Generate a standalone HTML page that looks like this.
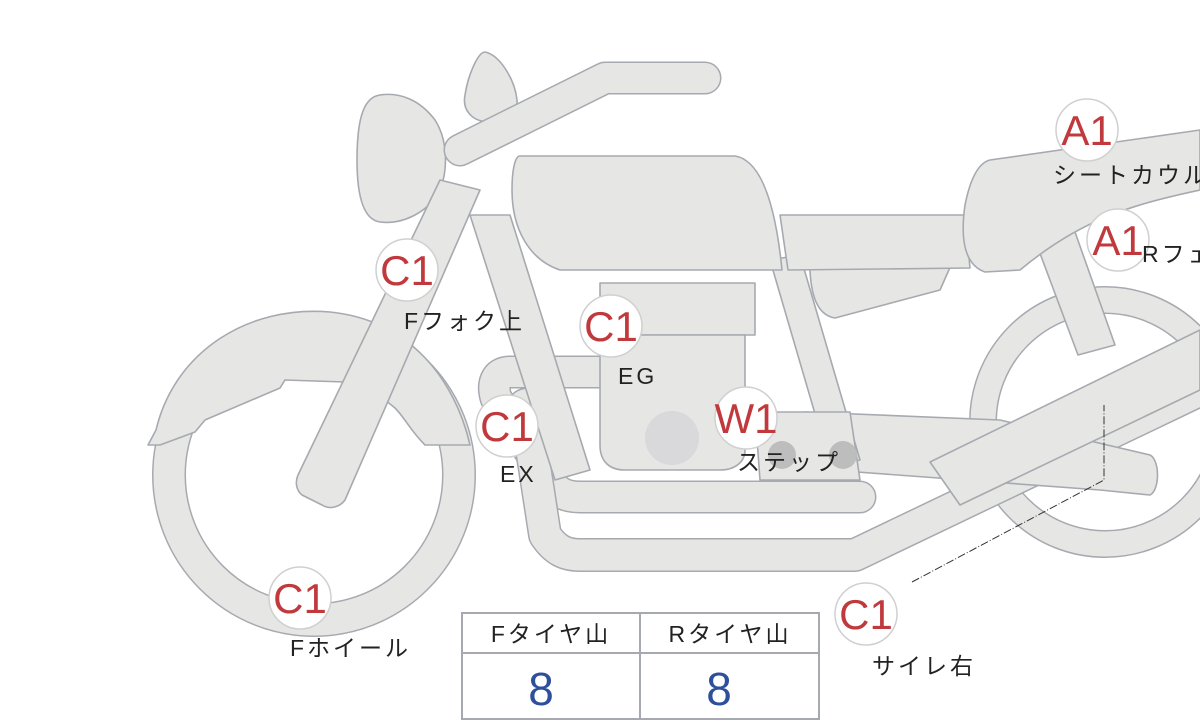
<!DOCTYPE html>
<html><head><meta charset="utf-8"><style>
html,body{margin:0;padding:0;background:#fff;}
svg{display:block;}
.s{fill:#e6e6e4;stroke:#a6aab0;stroke-width:1.6;stroke-linejoin:round;}
.t{font-family:"Liberation Sans","Noto Sans CJK JP",sans-serif;font-size:23px;fill:#222;letter-spacing:3px;}
.c{fill:#fff;stroke:#d0d0d0;stroke-width:1.5;}
.code{font-family:"Liberation Sans",sans-serif;font-size:42px;fill:#c0393c;text-anchor:middle;}
</style></head><body>
<svg width="1200" height="720" viewBox="0 0 1200 720">
<circle cx="1105" cy="422" r="122" fill="none" stroke="#a6aab0" stroke-width="28"/>
<circle cx="1105" cy="422" r="122" fill="none" stroke="#e6e6e4" stroke-width="25"/>
<circle cx="314" cy="475" r="145" fill="none" stroke="#a6aab0" stroke-width="34"/>
<circle cx="314" cy="475" r="145" fill="none" stroke="#e6e6e4" stroke-width="31"/>
<path class="s" d="M148,445 L156,430 C175,350 250,305 330,312 C410,320 455,380 470,445 L425,445 C410,430 405,418 395,408 C380,395 360,385 345,382 L285,380 L280,388 L205,420 L195,432 L160,445 Z"/>
<path class="s" d="M1035,240 L1075,232 L1115,345 L1078,355 Z"/>
<path d="M600,372 L510,372 C495,372 492,385 496,398 L548,480 C556,492 565,497 580,497 L860,497" fill="none" stroke="#a6aab0" stroke-width="33" stroke-linejoin="round" stroke-linecap="round"/>
<path d="M600,372 L510,372 C495,372 492,385 496,398 L548,480 C556,492 565,497 580,497 L860,497" fill="none" stroke="#e6e6e4" stroke-width="30" stroke-linejoin="round" stroke-linecap="round"/>
<path d="M540,385 L545,400 L525,405 L545,535 C555,550 565,555 580,555 L855,555 L1200,390" fill="none" stroke="#a6aab0" stroke-width="34" stroke-linejoin="round"/>
<path d="M540,385 L545,400 L525,405 L545,535 C555,550 565,555 580,555 L855,555 L1200,390" fill="none" stroke="#e6e6e4" stroke-width="31" stroke-linejoin="round"/>
<path class="s" d="M805,412 L1000,420 L1150,455 C1160,460 1160,490 1150,495 L1100,490 L830,470 Z"/>
<path class="s" d="M470,215 L510,215 L590,470 L555,480 Z"/>
<path class="s" d="M770,260 L800,255 L860,460 L830,465 Z"/>
<path class="s" d="M810,245 L960,245 L940,290 L835,318 C815,315 808,290 810,245 Z"/>
<path class="s" d="M780,215 L965,215 L970,268 L788,270 Z"/>
<path class="s" d="M990,160 C1060,150 1130,140 1200,130 L1200,190 C1130,205 1080,220 1020,270 L985,272 C965,265 960,240 965,205 C970,180 978,163 990,160 Z"/>
<rect class="s" x="600" y="283" width="155" height="52"/>
<path class="s" d="M600,335 L745,335 L745,450 C745,462 735,470 720,470 L625,470 C610,470 600,462 600,445 Z"/>
<circle cx="672" cy="438" r="27" fill="#d9d9db"/>
<path class="s" d="M755,412 L850,412 L860,480 L760,480 Z"/>
<circle cx="782" cy="455" r="14" fill="#bdbdbd"/>
<circle cx="843" cy="455" r="14" fill="#bdbdbd"/>
<path class="s" d="M520,156 L735,156 C760,160 775,200 782,270 L560,270 C530,260 512,230 512,190 C512,170 515,156 520,156 Z"/>
<path class="s" d="M380,95 C400,92 420,100 435,120 C448,140 448,170 440,190 C430,210 405,225 380,222 C365,220 357,200 357,160 C357,115 365,97 380,95 Z"/>
<path class="s" d="M930,462 L1200,330 L1200,390 L960,505 Z"/>
<path class="s" d="M440,180 L480,190 L345,500 C340,507 330,510 322,505 L302,495 C296,490 295,482 298,475 Z"/>
<path class="s" d="M485,52 C500,55 515,80 517,100 C518,115 505,122 490,122 C472,122 462,110 465,95 C468,75 478,52 485,52 Z"/>
<path d="M460,150 L605,78 L705,78" fill="none" stroke="#a6aab0" stroke-width="33" stroke-linecap="round" stroke-linejoin="round"/>
<path d="M460,150 L605,78 L705,78" fill="none" stroke="#e6e6e4" stroke-width="30" stroke-linecap="round" stroke-linejoin="round"/>
<path d="M912,582 L1104,480 L1104,405" fill="none" stroke="#333" stroke-width="1" stroke-dasharray="8,2,1,2"/>
<g>
<circle class="c" cx="407" cy="270" r="31"/><text class="code" x="407" y="285">C1</text>
<text class="t" x="404" y="329">Fフォク上</text>
<circle class="c" cx="611" cy="326" r="31"/><text class="code" x="611" y="341">C1</text>
<text class="t" x="618" y="384">EG</text>
<circle class="c" cx="507" cy="426" r="31"/><text class="code" x="507" y="441">C1</text>
<text class="t" x="500" y="482">EX</text>
<circle class="c" cx="746" cy="418" r="31"/><text class="code" x="746" y="433">W1</text>
<text class="t" x="737" y="470">ステップ</text>
<circle class="c" cx="300" cy="598" r="31"/><text class="code" x="300" y="613">C1</text>
<text class="t" x="290" y="656">Fホイール</text>
<circle class="c" cx="866" cy="614" r="31"/><text class="code" x="866" y="629">C1</text>
<text class="t" x="872" y="674">サイレ右</text>
<circle class="c" cx="1087" cy="130" r="31"/><text class="code" x="1087" y="145">A1</text>
<text class="t" x="1053" y="183">シートカウル</text>
<circle class="c" cx="1118" cy="240" r="31"/><text class="code" x="1118" y="255">A1</text>
<text class="t" x="1142" y="262">Rフェンダー</text>
</g>
<rect x="462" y="613" width="357" height="106" fill="#fff" stroke="#a6aab0" stroke-width="2"/>
<line x1="462" y1="653" x2="819" y2="653" stroke="#a6aab0" stroke-width="2"/>
<line x1="640" y1="613" x2="640" y2="719" stroke="#a6aab0" stroke-width="2"/>
<text class="t" x="551" y="642" text-anchor="middle" style="font-size:23px">Fタイヤ山</text>
<text class="t" x="730" y="642" text-anchor="middle" style="font-size:23px">Rタイヤ山</text>
<text x="541" y="705" text-anchor="middle" style="font-family:'Liberation Sans',sans-serif;font-size:46px;fill:#2d4f9c">8</text>
<text x="719" y="705" text-anchor="middle" style="font-family:'Liberation Sans',sans-serif;font-size:46px;fill:#2d4f9c">8</text>
</svg>
</body></html>
